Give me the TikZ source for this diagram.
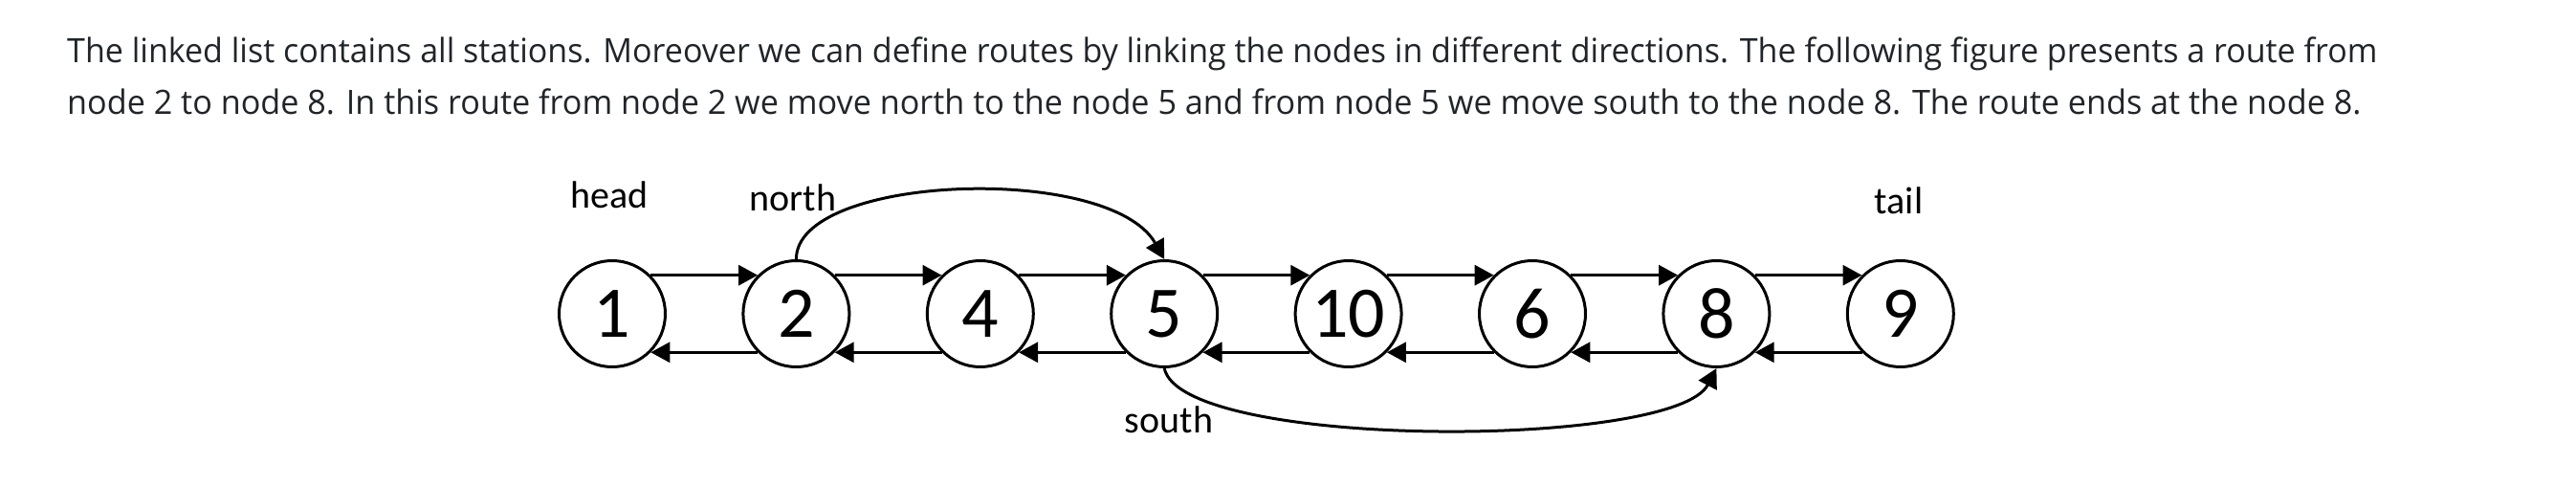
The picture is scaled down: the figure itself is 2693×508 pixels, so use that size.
\documentclass[tikz,border=0pt]{standalone}
\usepackage{fontspec}
\usepackage{graphicx}
\setmainfont{Open Sans}
\newfontfamily\diagfont{Carlito}
\usetikzlibrary{arrows.meta}
\definecolor{bodytext}{RGB}{33,37,41}
\begin{document}
\begin{tikzpicture}[x=1pt,y=-1pt,
  station/.style={circle, draw, line width=3pt, minimum size=111pt, inner sep=0pt,
    font=\diagfont\fontsize{76}{76}\selectfont},
  lbl/.style={anchor=base, inner sep=0pt, font=\diagfont\fontsize{40}{40}\selectfont},
  link/.style={line width=3pt, -{Triangle[length=20pt,width=21pt]}},
  para/.style={anchor=base west, inner sep=0pt, text=bodytext, font=\fontsize{35}{35}\selectfont}]
\fill[white] (0,0) rectangle (2693,508);
\useasboundingbox (0,0) rectangle (2693,508);

\node[para] (p1) at (70,65.7) {\resizebox{2415pt}{\height}{The linked list contains all stations. Moreover we can define routes by linking the nodes in different directions. The following figure presents a route from}};
\node[para] (p2) at (70,120) {\resizebox{2398pt}{\height}{node 2 to node 8. In this route from node 2 we move north to the node 5 and from node 5 we move south to the node 8. The route ends at the node 8.}};

\foreach \lab [count=\i from 0] in {1,2,4,5,10,6,8,9}
  \node[station] (n\lab) at ({640+192.4*\i},328) {\lab};

\foreach \a/\b in {1/2,2/4,4/5,5/10,10/6,6/8,8/9} {
  \draw[link] (n\a.45) -- (n\b.135);
  \draw[link] (n\b.225) -- (n\a.315);
}

\draw[link] (n2.north) .. controls (832,182) and (1160,170) .. (n5.north);
\draw[link] (n5.south) .. controls (1235,470) and (1750,470) .. (n8.south);

\node[lbl] (head) at (637,217) {head};
\node[lbl] (north) at (829,220) {north};
\node[lbl] (tail) at (1985,223) {tail};
\node[lbl] (south) at (1222,452) {south};
\end{tikzpicture}
\end{document}
